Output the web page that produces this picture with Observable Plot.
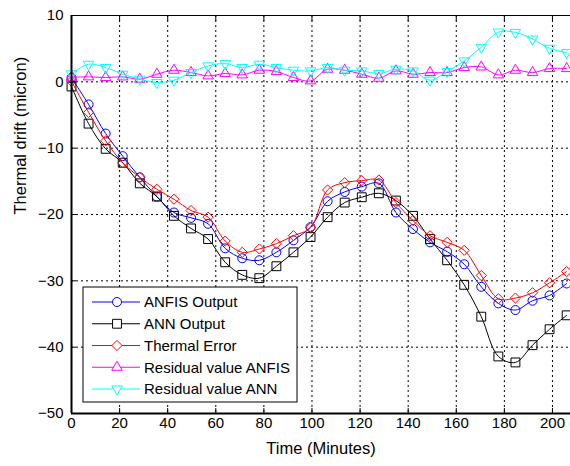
<!DOCTYPE html>
<html><head><meta charset="utf-8">
<script src="https://cdn.jsdelivr.net/npm/d3@7"></script>
<script src="https://cdn.jsdelivr.net/npm/@observablehq/plot@0.6"></script>
<style>body{margin:0;background:#fff} #chart{width:570px;height:466px}</style>
</head><body><div id="chart"></div>
<script>
// ---- data ----
const time = [0,7.1,14.2,21.3,28.4,35.5,42.6,49.7,56.8,63.9,71,78.1,85.2,92.3,99.4,106.5,113.6,120.7,127.8,134.9,142,149.1,156.2,163.3,170.4,177.5,184.6,191.7,198.8,205.9];
const anfisOutput  = [0.6,-3.4,-7.8,-11.2,-14.4,-17.3,-19.7,-20.5,-21.4,-25.1,-26.6,-26.9,-25.7,-23.9,-21.9,-18.0,-16.6,-15.8,-15.3,-19.7,-22.2,-24.2,-25.6,-27.5,-30.9,-33.4,-34.4,-33.0,-32.2,-30.4];
const annOutput    = [-0.7,-6.3,-10.1,-12.2,-15.3,-17.3,-20.2,-22.1,-23.7,-27.2,-29.1,-29.6,-27.8,-25.7,-23.4,-20.4,-18.2,-17.4,-16.8,-17.9,-20.2,-23.7,-26.9,-30.6,-35.4,-41.4,-42.3,-39.7,-37.3,-35.2];
const thermalError = [0.1,-4.6,-8.9,-12.2,-14.4,-16.2,-17.7,-19.4,-20.4,-24.0,-25.7,-25.2,-24.4,-23.2,-22.0,-16.3,-15.2,-14.9,-14.8,-18.2,-20.9,-23.2,-24.2,-25.4,-29.2,-32.7,-32.6,-31.8,-30.3,-28.6];
const residualAnfis = [0.7,0.75,0.65,0.75,0.4,1.15,1.75,1.4,0.9,1.25,1.05,1.75,1.55,0.65,0.15,1.9,1.75,1.15,0.55,1.65,1.15,1.4,1.4,2.15,2.25,1.05,1.75,1.4,2.0,2.0];
const residualAnn   = [1.2,2.65,2.15,1.15,0.4,-0.1,0.25,1.4,2.4,2.75,2.15,2.65,2.15,1.75,1.65,2.15,1.75,1.65,1.25,1.9,1.65,0.25,1.55,3.15,5.2,7.5,7.45,6.45,5.05,4.4];
const seriesNames = ["ANFIS Output","ANN Output","Thermal Error","Residual value ANFIS","Residual value ANN"];
const xTicks = [0,20,40,60,80,100,120,140,160,180,200];
const yTicks = [-50,-40,-30,-20,-10,0,10];

// ---- styles ----
const seriesValues = [anfisOutput, annOutput, thermalError, residualAnfis, residualAnn];
const styles = [
  {color:"#0000ff", symbol:"circle",   r:4.5, rotate:0},
  {color:"#000000", symbol:"square",   r:5,   rotate:0},
  {color:"#ff0000", symbol:"diamond2", r:4.6, rotate:0},
  {color:"#ff00ff", symbol:"triangle", r:3.9, rotate:0},
  {color:"#00ffff", symbol:"triangle", r:3.9, rotate:180}
];
const rows = seriesNames.map((name, k) => time.map((t, i) => ({series:name, time:t, value:seriesValues[k][i]})));

const font = "Liberation Sans, Arial, Helvetica, sans-serif";
const marks = [
  Plot.ruleX(xTicks.filter(t => t > 0), {stroke:"#000", strokeWidth:1, strokeDasharray:"2,3"}),
  Plot.ruleY(yTicks.filter(v => v > -50 && v < 10), {stroke:"#000", strokeWidth:1, strokeDasharray:"2,3"})
];
rows.forEach((data, k) => {
  const s = styles[k];
  marks.push(Plot.line(data, {x:"time", y:"value", stroke:s.color, strokeWidth:1, curve:"catmull-rom"}));
  marks.push(Plot.dot(data, {x:"time", y:"value", stroke:s.color, fill:"none", strokeWidth:1, symbol:s.symbol, r:s.r, rotate:s.rotate}));
});
marks.push(
  Plot.frame({stroke:"#000", strokeWidth:1}),
  Plot.ruleX([0], {stroke:"#000", strokeWidth:2}),
  Plot.ruleY([-50], {stroke:"#000", strokeWidth:2}),
  Plot.axisX(xTicks, {anchor:"bottom", tickSize:-5, tickPadding:9, fontSize:15, label:null}),
  Plot.axisX(xTicks, {anchor:"top", tickSize:-5, tickFormat:() => "", label:null}),
  Plot.axisY(yTicks, {anchor:"left", tickSize:-5, tickPadding:13, fontSize:15, label:null}),
  Plot.text(["Time (Minutes)"], {frameAnchor:"bottom", dy:40, fontSize:16.5, fill:"#000"}),
  Plot.text(["Thermal drift (micron)"], {frameAnchor:"left", dx:-51, rotate:-90, fontSize:16.5, fill:"#000"})
);

const plot = Plot.plot({
  width:570, height:466,
  marginLeft:71, marginRight:0, marginTop:15, marginBottom:53,
  style:{fontFamily:font, fontSize:"15px", color:"#000", background:"#fff"},
  x:{domain:[0,207.5]},
  y:{domain:[-50,10]},
  marks
});
document.getElementById("chart").append(plot);

// ---- legend (inside the plot area, like MATLAB) ----
const svg = d3.select(plot);
const x0 = 83, y0 = 287;
const lg = svg.append("g").attr("transform", `translate(${x0},${y0})`).attr("text-anchor","start");
lg.append("rect").attr("width",214).attr("height",115).attr("fill","#fff").attr("stroke","#000").attr("stroke-width",1);
const symMap = {circle:d3.symbolCircle, square:d3.symbolSquare, diamond2:d3.symbolDiamond2, triangle:d3.symbolTriangle};
seriesNames.forEach((name, i) => {
  const s = styles[i];
  const y = 15 + i * 21.75;
  lg.append("line").attr("x1",9).attr("x2",57).attr("y1",y).attr("y2",y).attr("stroke",s.color).attr("stroke-width",1);
  lg.append("path").attr("d", d3.symbol(symMap[s.symbol], Math.PI*s.r*s.r)())
    .attr("transform",`translate(34,${y}) rotate(${s.rotate})`).attr("fill","#fff").attr("stroke",s.color).attr("stroke-width",1);
  lg.append("text").attr("x",61).attr("y",y).attr("dy","0.35em").attr("text-anchor","start")
    .style("font-size","15px").style("font-family",font).attr("fill","#000").text(name);
});
</script>
</body></html>
